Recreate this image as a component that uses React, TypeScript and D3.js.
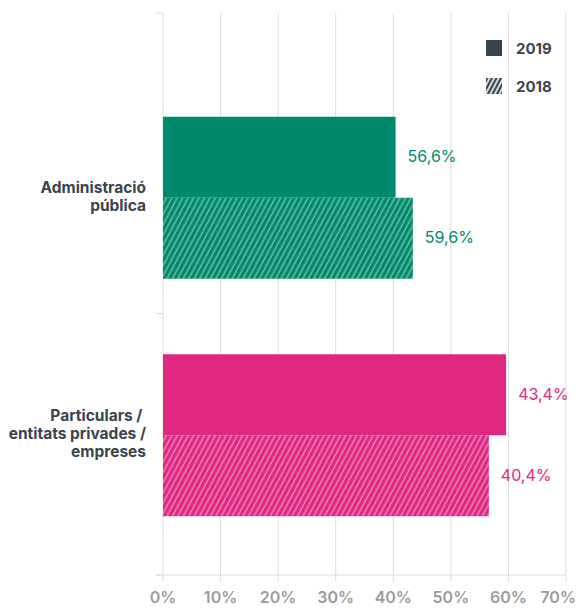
import React from "react"
import * as d3 from "d3"

// data
const categories = ["Administració pública", "Particulars / entitats privades / empreses"]
const categoryLines = [
  ["Administració", "pública"],
  ["Particulars / ", "entitats privades /", "empreses"],
]
const years = ["2019", "2018"]
const values2019 = [40.4, 59.6]
const values2018 = [43.4, 56.6]
const labels2019 = ["56,6%", "43,4%"]
const labels2018 = ["59,6%", "40,4%"]
const xTicks = [0, 10, 20, 30, 40, 50, 60, 70]

const colors = ["#00896a", "#e02782"]
const textDark = "#39444f"
const gridColor = "#dcdcdc"
const font = "Inter, 'DejaVu Sans', sans-serif"

const width = 581
const height = 612
const top = 13
const bottom = 575

const App: React.FC = () => {
  const x = d3.scaleLinear().domain([0, 70]).range([163, 566])
  const y = d3.scaleBand().domain(categories).range([79, 554]).padding(0)
  const yInner = d3.scaleBand().domain(years).range([0, y.bandwidth()]).paddingOuter(0.466).paddingInner(0)

  const series = [
    { year: "2019", values: values2019, labels: labels2019 },
    { year: "2018", values: values2018, labels: labels2018 },
  ]

  const yTicks = [top, y(categories[1])! - 3, bottom]

  return (
    <svg
      width={width}
      height={height}
      style={{ position: "absolute", left: 0, top: 0, display: "block" }}
      fontFamily={font}
    >
      <defs>
        {colors.map((c, i) => (
          <pattern
            key={c}
            id={`hatch${i}`}
            patternUnits="userSpaceOnUse"
            width={4.8}
            height={10}
            patternTransform="rotate(28)"
          >
            <rect width={4.8} height={10} fill={c} />
            <line x1={1.2} y1={-1} x2={1.2} y2={11} stroke="#fff" strokeOpacity={0.45} strokeWidth={1.4} />
          </pattern>
        ))}
        <pattern id="hatchLegend" patternUnits="userSpaceOnUse" width={4} height={10} patternTransform="rotate(28)">
          <rect width={4} height={10} fill={textDark} />
          <line x1={1} y1={-1} x2={1} y2={11} stroke="#fff" strokeWidth={1.6} />
        </pattern>
      </defs>

      {/* grid lines and x tick labels */}
      {xTicks.map((t, i) => {
        const last = i === xTicks.length - 1
        return (
          <g key={t}>
            <line x1={x(t)} x2={x(t)} y1={top} y2={bottom + 7} stroke={gridColor} strokeWidth={1} />
            <text
              x={last ? 576 : x(t)}
              y={603}
              textAnchor={last ? "end" : "middle"}
              fontSize={16}
              fontWeight={600}
              fill="#9b9b9b"
            >
              {t}%
            </text>
          </g>
        )
      })}
      <line x1={156} x2={x(70)} y1={bottom} y2={bottom} stroke={gridColor} strokeWidth={1} />
      {yTicks.map((t, i) => (
        <line key={i} x1={156} x2={x(0)} y1={t} y2={t} stroke={gridColor} strokeWidth={1} />
      ))}

      {/* bars */}
      {categories.map((cat, ci) => (
        <g key={cat} transform={`translate(0,${y(cat)})`}>
          {series.map((s) => {
            const by = yInner(s.year)!
            const bh = yInner.bandwidth()
            const xEnd = x(s.values[ci])
            return (
              <g key={s.year}>
                <rect
                  x={x(0)}
                  y={by}
                  width={xEnd - x(0)}
                  height={bh}
                  fill={s.year === "2019" ? colors[ci] : `url(#hatch${ci})`}
                />
                <text x={xEnd + 12} y={by + bh / 2 + 5} fontSize={16} fill={colors[ci]}>
                  {s.labels[ci]}
                </text>
              </g>
            )
          })}
        </g>
      ))}

      {/* category labels */}
      {categories.map((cat, ci) => {
        const lines = categoryLines[ci]
        const c = y(cat)! + y.bandwidth() / 2 + 4
        return (
          <text key={cat} textAnchor="end" fontSize={15.5} fontWeight={700} fill={textDark}>
            {lines.map((l, li) => (
              <tspan key={li} x={146} y={c + (li - (lines.length - 1) / 2) * 18} style={{ whiteSpace: "pre" }}>
                {l}
              </tspan>
            ))}
          </text>
        )
      })}

      {/* legend */}
      <g>
        <rect x={486} y={40} width={16} height={16} fill={textDark} />
        <text x={516} y={53.5} fontSize={15} fontWeight={700} fill={textDark}>
          {years[0]}
        </text>
        <rect x={486} y={78} width={16} height={16} fill="url(#hatchLegend)" />
        <text x={516} y={91.5} fontSize={15} fontWeight={700} fill={textDark}>
          {years[1]}
        </text>
      </g>
    </svg>
  )
}

export default App
